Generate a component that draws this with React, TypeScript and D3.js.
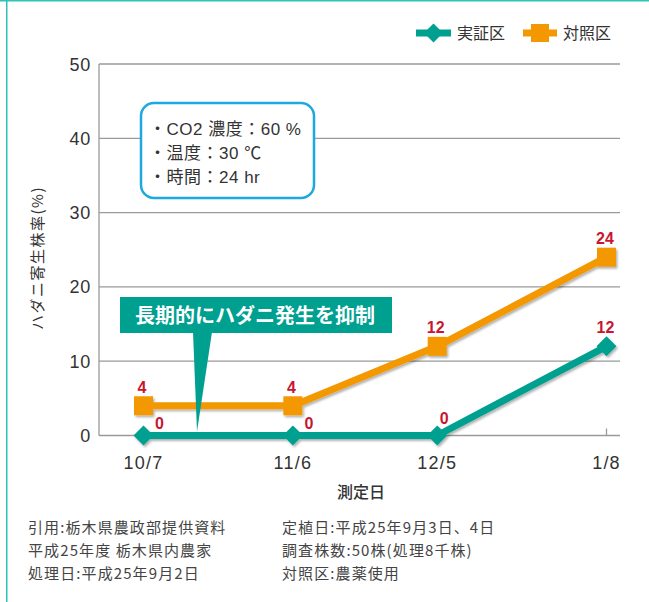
import React, { useEffect } from 'react';
import * as d3 from 'd3';

// measurement dates (2013-2014 season)
const dates = ['2013-10-07', '2013-11-06', '2013-12-05', '2014-01-08'];
const dateLabels = ['10/7', '11/6', '12/5', '1/8'];
const jisshoValues = [0, 0, 0, 12]; // 実証区
const taishoValues = [4, 4, 12, 24]; // 対照区
const yTicks = [0, 10, 20, 30, 40, 50];
const seriesNames = ['実証区', '対照区'];
const calloutLines = ['・CO2 濃度：60 %', '・温度：30 ℃', '・時間：24 hr'];
const bannerText = '長期的にハダニ発生を抑制';
const yTitle = 'ハダニ寄生株率(%)';
const xTitle = '測定日';
const notesLeft = ['引用:栃木県農政部提供資料', '平成25年度 栃木県内農家', '処理日:平成25年9月2日'];
const notesRight = ['定植日:平成25年9月3日、4日', '調査株数:50株(処理8千株)', '対照区:農薬使用'];

const W = 649;
const H = 602;
const plotLeft = 99;
const plotRight = 620;
const TEAL = '#00a091';
const ORANGE = '#f39800';
const RED = '#c8162f';
const BORDER = '#2fc3b6';
const LATIN = '"Liberation Sans", Arial, "Noto Sans CJK JP", sans-serif';
const JP = '"Noto Sans CJK JP", "Noto Sans", sans-serif';

// label nudges for the teal series (avoid overlapping the orange line)
const tealLabelNudge = [[16, -13], [16, -13], [7, -18], [-1, -19]];

const parse = d3.timeParse('%Y-%m-%d');

const diamond = (cx: number, cy: number, r: number) =>
  `M${cx},${cy - r}L${cx + r},${cy}L${cx},${cy + r}L${cx - r},${cy}Z`;

export default function App() {
  useEffect(() => {
    document.body.style.margin = '0';
  }, []);

  const xs = dates.map((d) => parse(d) as Date);
  const x = d3.scaleTime().domain(d3.extent(xs) as [Date, Date]).range([143.5, 606.5]);
  const y = d3.scaleLinear().domain([0, 50]).range([435.5, 64]);

  const line = d3
    .line<number>()
    .x((_, i) => x(xs[i]))
    .y((v) => y(v));

  return (
    <svg width={W} height={H} style={{ position: 'absolute', left: 0, top: 0, background: '#fff' }}>
      <defs>
        <filter id="sh" x="-20%" y="-20%" width="140%" height="160%">
          <feDropShadow dx="1.5" dy="2" stdDeviation="1.2" floodColor="#000" floodOpacity="0.3" />
        </filter>
      </defs>

      {/* frame */}
      <line x1={0} x2={W} y1={0.75} y2={0.75} stroke={BORDER} strokeWidth={1.5} />
      <line x1={6.75} x2={6.75} y1={0} y2={H} stroke={BORDER} strokeWidth={1.5} />

      {/* grid */}
      {yTicks.map((t) => (
        <g key={t}>
          <line x1={plotLeft} x2={plotRight} y1={y(t)} y2={y(t)} stroke="#9a9a9a" strokeWidth={1.3} />
          <text
            x={91}
            y={y(t) + 6.5}
            textAnchor="end"
            fontFamily={LATIN}
            fontSize={18}
            letterSpacing={0.8}
            fill="#333"
          >
            {t}
          </text>
        </g>
      ))}
      <line x1={plotLeft} x2={plotLeft} y1={y(50)} y2={y(0)} stroke="#9a9a9a" strokeWidth={1.3} />
      {xs.map((d, i) => (
        <g key={i}>
          <line x1={x(d)} x2={x(d)} y1={y(0) - 7} y2={y(0)} stroke="#9a9a9a" strokeWidth={1.3} />
          <text
            x={x(d)}
            y={y(0) + 33}
            textAnchor="middle"
            fontFamily={LATIN}
            fontSize={18}
            letterSpacing={1.2}
            fill="#333"
          >
            {dateLabels[i]}
          </text>
        </g>
      ))}

      {/* callout box */}
      <rect x={141} y={103} width={173} height={95} rx={13} fill="#fff" stroke="#1ea8e0" strokeWidth={2.5} />
      {calloutLines.map((t, i) => (
        <text key={i} x={149} y={135 + i * 24} fontFamily={LATIN} fontSize={17} letterSpacing={0.5} fill="#333">
          {t}
        </text>
      ))}

      {/* series */}
      <g filter="url(#sh)">
        <path d={line(jisshoValues) || ''} fill="none" stroke={TEAL} strokeWidth={7} strokeLinejoin="round" />
        {jisshoValues.map((v, i) => (
          <path key={i} d={diamond(x(xs[i]), y(v), 10)} fill={TEAL} />
        ))}
        <path d={line(taishoValues) || ''} fill="none" stroke={ORANGE} strokeWidth={7} strokeLinejoin="round" />
        {taishoValues.map((v, i) => (
          <rect key={i} x={x(xs[i]) - 9.5} y={y(v) - 9.5} width={19} height={19} fill={ORANGE} />
        ))}
      </g>

      {/* value labels */}
      {taishoValues.map((v, i) => (
        <text
          key={'o' + i}
          x={x(xs[i]) - 1.5}
          y={y(v) - 13}
          textAnchor="middle"
          fontFamily={LATIN}
          fontWeight="bold"
          fontSize={16}
          fill={RED}
        >
          {v}
        </text>
      ))}
      {jisshoValues.map((v, i) => (
        <text
          key={'t' + i}
          x={x(xs[i]) + tealLabelNudge[i][0]}
          y={y(v) + tealLabelNudge[i][1] + 6}
          textAnchor="middle"
          fontFamily={LATIN}
          fontWeight="bold"
          fontSize={16}
          fill={RED}
        >
          {v}
        </text>
      ))}

      {/* banner */}
      <polygon points={`193,332 212,332 197,${y(0) - 4}`} fill={TEAL} />
      <rect x={120} y={297} width={272} height={36} fill={TEAL} />
      <text x={255} y={323} textAnchor="middle" fontFamily={JP} fontWeight="bold" fontSize={20} fill="#fff">
        {bannerText}
      </text>

      {/* legend */}
      <line x1={416} x2={451} y1={33} y2={33} stroke={TEAL} strokeWidth={7} />
      <path d={diamond(433.5, 33, 9.5)} fill={TEAL} />
      <text x={457} y={39} fontFamily={JP} fontSize={16} fill="#333">
        {seriesNames[0]}
      </text>
      <line x1={523} x2={557} y1={33} y2={33} stroke={ORANGE} strokeWidth={7} />
      <rect x={531} y={24} width={18} height={18} fill={ORANGE} />
      <text x={563} y={39} fontFamily={JP} fontSize={16} fill="#333">
        {seriesNames[1]}
      </text>

      {/* axis titles */}
      <text
        transform={`translate(43,258) rotate(-90)`}
        textAnchor="middle"
        fontFamily={JP}
        fontSize={15}
        letterSpacing={1.5}
        fill="#333"
      >
        {yTitle}
      </text>
      <text x={361} y={498} textAnchor="middle" fontFamily={JP} fontSize={16} fontWeight={500} fill="#333">
        {xTitle}
      </text>

      {/* notes */}
      {notesLeft.map((t, i) => (
        <text key={'l' + i} x={28} y={533 + i * 23} fontFamily={JP} fontSize={15} letterSpacing={1.1} fill="#444">
          {t}
        </text>
      ))}
      {notesRight.map((t, i) => (
        <text key={'r' + i} x={282} y={533 + i * 23} fontFamily={JP} fontSize={15} letterSpacing={1.1} fill="#444">
          {t}
        </text>
      ))}
    </svg>
  );
}
